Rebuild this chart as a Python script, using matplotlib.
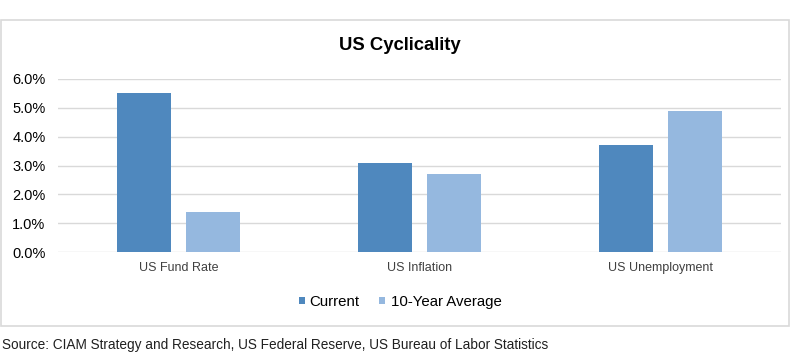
import numpy as np
import matplotlib.pyplot as plt
from matplotlib.patches import Rectangle
from matplotlib.ticker import FuncFormatter

plt.rcParams['font.family'] = ['Liberation Sans', 'DejaVu Sans']

categories = ['US Fund Rate', 'US Inflation', 'US Unemployment']
current = [5.5, 3.1, 3.7]
ten_year_avg = [1.4, 2.7, 4.9]

fig = plt.figure(figsize=(8, 3.55), dpi=100)
fig.patches.append(Rectangle((0.001, 1 - 326 / 355), 0.985, (326 - 20) / 355,
                             transform=fig.transFigure, fill=False,
                             edgecolor='#D9D9D9', linewidth=1.2))

ax = fig.add_axes([58 / 800, 1 - 252 / 355, (781 - 58) / 800, (252 - 79) / 355])
x = np.arange(len(categories))
w = 0.225
ax.bar(x - 0.143, current, w, color='#4F88BE', label='Current')
ax.bar(x + 0.143, ten_year_avg, w, color='#95B8DF', label='10-Year Average')

ax.set_xlim(-0.5, 2.5)
ax.set_ylim(0, 6)
ax.set_yticks(np.arange(0, 7, 1))
ax.yaxis.set_major_formatter(FuncFormatter(lambda v, p: f'{v:.1f}%'))
ax.grid(axis='y', color='#D9D9D9', linewidth=1)
ax.set_axisbelow(True)
for s in ax.spines.values():
    s.set_visible(False)
ax.tick_params(axis='both', length=0)
ax.tick_params(axis='y', labelsize=10.5, pad=9, labelcolor='#000000')
ax.tick_params(axis='x', labelsize=9, pad=7, labelcolor='#404040')
ax.set_xticks(x)
ax.set_xticklabels(categories)

fig.text(0.5, 1 - 46 / 355, 'US Cyclicality', ha='center', va='center',
         fontsize=13.3, fontweight='bold')
ax.legend(loc='center', bbox_to_anchor=(0.5, 1 - 302 / 355), bbox_transform=fig.transFigure,
          ncol=2, frameon=False, fontsize=10.8, handlelength=0.4, handleheight=0.4,
          handletextpad=0.35, columnspacing=1.3)
fig.text(0.002, 1 - 345 / 355,
         'Source: CIAM Strategy and Research, US Federal Reserve, US Bureau of Labor Statistics',
         ha='left', va='center', fontsize=9.8, color='#202020')

fig.savefig('out.png', dpi=100)
